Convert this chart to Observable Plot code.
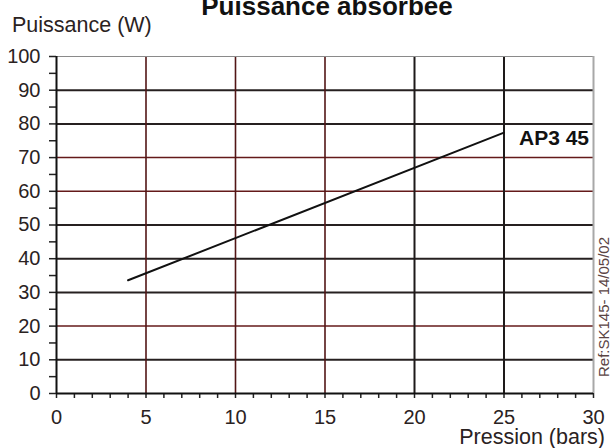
<!DOCTYPE html>
<html><head><meta charset="utf-8">
<script src="https://cdn.jsdelivr.net/npm/d3@7"></script>
<script src="https://cdn.jsdelivr.net/npm/@observablehq/plot@0.6"></script>
<style>
body{margin:0;background:#fff;}
svg{font-family:"Liberation Sans",Arial,sans-serif;}
</style>
</head><body><div id="chart"></div>
<script>
// ---- data ----
const pressure = [4, 25];          // bars
const power = [33.6, 77.4];        // W
const seriesName = "AP3 45";
const xTicks = [0, 5, 10, 15, 20, 25, 30];
const xMinorTicks = d3.range(0, 31, 1);
const yTicks = [0, 10, 20, 30, 40, 50, 60, 70, 80, 90, 100];
const yMinorTicks = d3.range(0, 101, 5);
const xGridDark = [20, 25];
const xGridRed = [5, 10, 15];
const yGridDark = [10, 30, 40, 50, 80, 90];
const yGridRed = [20, 60, 70];
const titleText = "Puissance absorbee";
const yLabelText = "Puissance (W)";
const xLabelText = "Pression (bars)";
const refText = "Ref:SK145- 14/05/02";

const rows = pressure.map((p, i) => ({p, w: power[i]}));

const W = 611, H = 448;
const mL = 56, mR = 18, mT = 56, mB = 55;

const chart = Plot.plot({
  width: W, height: H,
  marginLeft: mL, marginRight: mR, marginTop: mT, marginBottom: mB,
  x: {domain: [0, 30], label: null},
  y: {domain: [0, 100], label: null},
  style: {fontFamily: '"Liberation Sans", Arial, sans-serif', color: "#2a2222", background: "#fff", overflow: "visible"},
  marks: [
    Plot.ruleY(yGridRed, {stroke: "#641a1a", strokeWidth: 1.5}),
    Plot.ruleY(yGridDark, {stroke: "#262020", strokeWidth: 2}),
    Plot.ruleX(xGridRed, {stroke: "#521616", strokeWidth: 1.6}),
    Plot.ruleX(xGridDark, {stroke: "#1e1a1a", strokeWidth: 2}),
    Plot.ruleY([100], {stroke: "#8a8a8a", strokeWidth: 1}),
    Plot.ruleX([30], {stroke: "#a8a8a8", strokeWidth: 2}),
    Plot.axisX(xMinorTicks, {anchor: "bottom", tickSize: 5, text: null, stroke: "#222", strokeWidth: 1.5, label: null}),
    Plot.axisX(xTicks, {anchor: "bottom", tickSize: 0, tickPadding: 16, fontSize: 20, label: null}),
    Plot.axisY(yMinorTicks, {anchor: "left", tickSize: 7, text: null, stroke: "#222", strokeWidth: 1.5, label: null}),
    Plot.axisY(yTicks, {anchor: "left", tickSize: 0, tickPadding: 16, fontSize: 20, label: null}),
    Plot.ruleX([0], {stroke: "#111", strokeWidth: 2}),
    Plot.ruleY([0], {stroke: "#111", strokeWidth: 2}),
    Plot.line(rows, {x: "p", y: "w", stroke: "#111", strokeWidth: 2}),
    Plot.text([rows[rows.length - 1]], {x: "p", y: "w", text: () => seriesName, textAnchor: "start", dx: 15, dy: 6, fontSize: 21, fontWeight: "bold", fill: "#111"})
  ]
});

const svg = d3.select(chart);
svg.append("text").attr("x", 327).attr("y", 15).attr("text-anchor", "middle")
  .attr("font-size", 26).attr("font-weight", "bold").attr("fill", "#111").text(titleText);
svg.append("text").attr("x", 12).attr("y", 32).attr("text-anchor", "start")
  .attr("font-size", 21.5).attr("fill", "#2a2222").text(yLabelText);
svg.append("text").attr("x", 605).attr("y", 444).attr("text-anchor", "end")
  .attr("font-size", 21.5).attr("fill", "#2a2222").text(xLabelText);
svg.append("text").attr("transform", "translate(609,307) rotate(-90)").attr("text-anchor", "middle")
  .attr("font-size", 15).attr("fill", "#5a4444").text(refText);

document.getElementById("chart").appendChild(chart);
</script>
</body></html>
